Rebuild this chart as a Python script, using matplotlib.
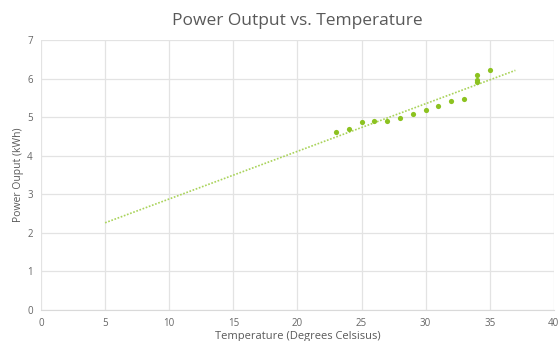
import numpy as np
import matplotlib
matplotlib.use('Agg')
import matplotlib.pyplot as plt

temp = [23, 24, 25, 26, 27, 28, 29, 30, 31, 32, 33, 34, 34, 34, 35]
power = [4.62, 4.69, 4.87, 4.91, 4.89, 4.99, 5.09, 5.18, 5.29, 5.43, 5.48, 6.09, 5.95, 5.90, 6.23]
trend_x = [5, 37]

plt.rcParams['font.family'] = ['Open Sans', 'DejaVu Sans']

fig = plt.figure(figsize=(5.6, 3.41), dpi=100)
ax = fig.add_axes([0.0732, 0.0909, 0.9158, 0.7918])

green = '#8cc220'
ax.scatter(temp, power, s=14, color=green, zorder=3, linewidths=0)

# linear trendline, extended like excel does
k, b = np.polyfit(temp, power, 1)
tx = np.array(trend_x)
ax.plot(tx, k * tx + b, color='#a9d35a', linestyle=(0, (1, 1)), lw=1.2, zorder=2)

ax.set_xlim(0, 40)
ax.set_ylim(0, 7)
ax.set_xticks(range(0, 41, 5))
ax.set_yticks(range(0, 8))
ax.grid(color='#e3e3e3', lw=0.9)
ax.set_axisbelow(True)
for s in ['top', 'right', 'left']:
    ax.spines[s].set_visible(False)
ax.spines['bottom'].set_color('#d9d9d9')
ax.tick_params(length=0, labelsize=7, colors='#666666', pad=6)

ax.set_title('Power Output vs. Temperature', fontsize=12.5, color='#595959', pad=11)
ax.set_ylabel('Power Ouput (kWh)', fontsize=7.5, color='#595959', labelpad=2)
ax.set_xlabel('Temperature (Degrees Celsisus)', fontsize=8, color='#595959', labelpad=1)

fig.savefig('out.png', dpi=100)
